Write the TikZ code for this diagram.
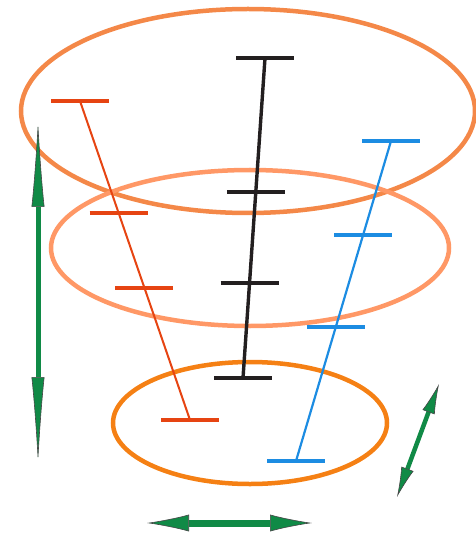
\documentclass[tikz,border=0pt]{standalone}
\usepackage{xcolor}
\usepackage{tikz}
\usetikzlibrary{calc, arrows.meta}

\definecolor{ringtop}{RGB}{244,136,72}
\definecolor{ringmid}{RGB}{255,152,102}
\definecolor{ringlow}{RGB}{245,128,20}
\definecolor{barred}{RGB}{230,68,18}
\definecolor{barblue}{RGB}{28,140,226}
\definecolor{barblack}{RGB}{35,31,32}
\definecolor{arrowgreen}{RGB}{16,138,70}
\definecolor{arrowedge}{RGB}{70,70,70}

\tikzset{
  ring/.style={line width=4.5pt},
  rod/.style={line width=#1},
  bar/.style={line width=3.6pt},
  moveback/.style={arrowgreen, line width=#1}
}

\begin{document}
\begin{tikzpicture}[x=1pt,y=-1pt]
        \useasboundingbox (0,0) rectangle (475,534);
        % the three rings
        \draw[ring, ringtop] (248,111) ellipse [x radius=227, y radius=102];
        \draw[ring, ringmid] (250,248) ellipse [x radius=199, y radius=78];
        \draw[ring, ringlow] (250,423) ellipse [x radius=137, y radius=61];
        % end points of the rods
        \coordinate (rtop) at (80,101);
        \coordinate (rbot) at (190,420);
        \coordinate (ktop) at (265,58);
        \coordinate (kbot) at (243,378);
        \coordinate (btop) at (391,141);
        \coordinate (bbot) at (296,461);
        % rods
        \draw[rod=2pt, barred] (rtop) -- (rbot);
        \draw[rod=3.4pt, barblack] (ktop) -- (kbot);
        \draw[rod=2.2pt, barblue] (btop) -- (bbot);
        % bars on each rod
        \foreach \p in {0,0.351,0.586,1}
          \draw[bar, barred] ($(rtop)!\p!(rbot)$) ++(-29,0) -- ++(58,0);
        \foreach \p in {0,0.419,0.703,1}
          \draw[bar, barblack] ($(ktop)!\p!(kbot)$) ++(-29,0) -- ++(58,0);
        \foreach \p in {0,0.294,0.581,1}
          \draw[bar, barblue] ($(btop)!\p!(bbot)$) ++(-29,0) -- ++(58,0);
        % green arrows
        \coordinate (vup) at (38,121);
        \coordinate (vdown) at (38,463);
        \coordinate (hleft) at (147,523);
        \coordinate (hright) at (312,523);
        \coordinate (dup) at (439,384);
        \coordinate (ddown) at (397,497);
        \draw[moveback=5pt, {Latex[length=86pt,width=13pt,color=arrowedge,fill=arrowgreen,line width=0.6pt]}-{Latex[length=86pt,width=13pt,color=arrowedge,fill=arrowgreen,line width=0.6pt]}] (vup) -- (vdown);
        \draw[moveback=7pt, {Latex[length=42pt,width=17pt,color=arrowedge,fill=arrowgreen,line width=0.6pt]}-{Latex[length=42pt,width=17pt,color=arrowedge,fill=arrowgreen,line width=0.6pt]}] (hleft) -- (hright);
        \draw[moveback=4.5pt, {Latex[length=30pt,width=13pt,color=arrowedge,fill=arrowgreen,line width=0.6pt]}-{Latex[length=30pt,width=13pt,color=arrowedge,fill=arrowgreen,line width=0.6pt]}] (dup) -- (ddown);
      \end{tikzpicture}
\end{document}
